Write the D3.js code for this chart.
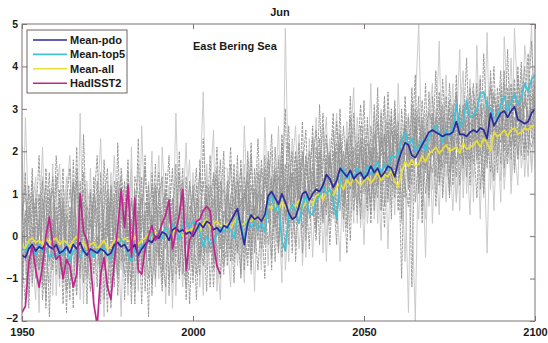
<!DOCTYPE html>
<html>
<head>
<meta charset="utf-8">
<script src="https://cdn.jsdelivr.net/npm/d3@7"></script>
<style>
html,body{margin:0;padding:0;background:#fff;}
svg{display:block;font-family:"Liberation Sans",Arial,sans-serif;}
</style>
</head>
<body>
<svg id="chart" width="548" height="343"></svg>
<script>
// ---------- DATA ----------
const firstYear = 1950, lastYear = 2100;
const xTicks = [1950, 2000, 2050, 2100];
const yTicks = [-2, -1, 0, 1, 2, 3, 4, 5];
const titleText = "Jun";
const regionText = "East Bering Sea";
const seriesNames = ["Mean-pdo", "Mean-top5", "Mean-all", "HadISST2"];

// ensemble members (gray)
const gray01 = [0.8,-0.6,1.2,-1.1,0.3,1.9,-0.4,-1.5,0.6,1.1,
-0.9,0.2,1.6,-1.3,0.7,-0.2,2.1,-0.8,0.4,-1.6,
1.0,0.1,-1.2,1.5,-0.3,0.9,-1.7,0.5,1.3,-0.6,
0.2,1.8,-1.0,0.6,-0.5,1.4,-1.3,0.8,0.0,1.7,
-0.7,0.4,1.1,-1.4,0.9,-0.1,2.0,-0.9,0.3,1.2,
-1.1,0.7,1.5,-0.4,0.2,1.9,-0.8,0.6,1.3,-0.5,
1.0,-0.3,1.7,0.1,-0.9,1.4,0.5,2.2,-0.4,0.9,
1.6,-0.2,1.1,2.4,0.3,1.8,-0.5,1.3,2.6,0.4,
1.9,0.8,2.7,-0.1,1.5,2.3,0.6,3.1,1.0,1.8,
0.3,2.5,1.2,3.0,0.7,1.9,2.8,0.9,2.2,1.4,
3.2,0.8,2.0,1.3,3.5,0.6,2.4,1.6,3.0,1.1,
2.7,0.4,3.3,1.8,2.2,3.8,1.0,2.6,1.5,3.4,
2.0,3.9,1.2,2.8,1.7,3.6,2.3,1.4,3.1,2.5,
4.2,1.6,2.9,2.1,3.7,1.3,3.3,2.4,4.0,1.9,
3.0,2.2,4.4,1.8,3.5,2.7,4.1,2.0,3.2,4.6,
2.8];
const gray02 = [-1.2,0.4,-0.3,1.6,-0.9,0.2,1.3,-1.7,0.9,-0.1,
1.4,-1.0,0.6,0.0,-1.5,1.8,-0.6,0.3,1.1,-0.4,
-1.3,0.8,1.9,-0.7,0.1,-1.8,1.2,0.4,-0.9,1.6,
0.5,-1.1,0.9,-0.3,2.3,-0.8,0.3,1.2,-1.4,0.6,
1.5,-0.5,-1.2,0.8,0.2,1.7,-1.0,0.5,-0.2,1.3,
0.4,-0.9,1.8,0.1,-1.3,0.9,1.4,-0.6,0.7,2.0,
-0.7,0.8,0.2,1.9,-1.0,1.1,0.3,-0.5,1.6,0.6,
-0.3,1.4,0.9,-0.8,2.1,0.5,1.2,3.0,-0.2,1.5,
0.9,2.2,-0.4,1.7,1.0,2.6,0.2,1.4,2.9,0.7,
2.0,1.1,-0.2,2.4,1.5,0.6,3.3,1.2,0.8,2.6,
1.0,2.8,0.3,2.1,1.4,2.9,0.7,3.4,1.8,0.9,
2.2,-1.0,2.5,1.3,3.1,0.8,2.0,1.6,3.6,1.1,
2.9,1.4,3.2,0.9,2.4,3.0,1.7,3.8,1.2,2.6,
1.8,3.5,2.3,0.9,3.1,2.7,1.6,3.9,2.2,3.0,
1.7,3.6,2.4,3.3,1.5,3.8,2.6,3.1,4.3,2.3,
3.4];
const gray03 = [0.3,1.5,-1.4,0.1,0.9,-0.8,0.5,1.2,-1.9,0.4,
-0.2,1.1,-1.1,0.8,1.6,-0.5,-1.4,1.3,0.0,0.7,
0.4,-0.9,0.6,1.1,-1.5,0.3,0.8,-1.2,2.2,-0.3,
-0.9,1.0,0.3,-1.6,0.8,0.1,1.9,-0.6,0.5,-1.0,
0.9,1.4,-0.3,0.2,-1.1,0.7,0.4,1.6,-1.5,0.1,
1.2,-0.2,-0.9,2.3,0.5,-0.4,0.8,1.6,-1.0,0.6,
0.3,1.7,-0.6,0.6,1.2,-0.8,2.0,0.7,0.1,1.5,
0.6,-1.0,2.0,0.9,1.4,-0.2,2.4,0.8,1.1,2.0,
-0.6,1.2,1.6,2.5,0.4,1.0,2.1,-0.2,1.7,2.4,
1.1,0.5,2.7,1.5,2.0,0.2,1.6,2.9,1.3,0.7,
2.3,1.7,0.5,3.1,1.2,2.0,3.3,0.8,2.5,1.9,
0.6,3.0,1.9,2.4,-1.2,2.8,1.4,3.2,2.1,0.9,
3.3,2.1,1.6,3.7,2.2,1.0,2.9,3.4,1.9,2.7,
2.6,1.2,3.4,2.8,1.9,4.3,2.3,1.5,3.3,2.7,
3.9,1.6,2.9,3.6,2.1,4.0,1.9,3.4,2.5,3.7,
2.2];
const gray04 = [-0.5,-1.6,0.7,0.2,-0.6,1.0,-1.2,0.3,1.5,-0.8,
0.5,-0.4,0.9,-1.8,0.3,1.2,0.1,-1.0,2.4,-0.2,
-0.6,1.4,-0.1,-1.1,1.8,0.2,-0.5,1.0,-1.4,0.3,
1.3,-0.4,-1.2,1.1,0.4,-0.7,0.6,-1.9,1.5,0.2,
-0.2,-1.3,0.7,1.9,-0.6,0.5,-0.9,0.1,1.4,-0.8,
0.8,1.6,-0.6,0.4,1.0,-1.2,0.3,2.1,0.0,-0.9,
1.3,0.4,-1.1,0.9,1.6,0.0,-0.7,1.2,0.5,2.3,
0.1,1.9,0.4,1.3,-0.6,1.0,2.2,0.3,1.7,-0.4,
1.4,0.6,2.0,1.1,-0.3,1.8,2.5,1.2,0.4,2.2,
1.6,2.9,0.5,1.2,2.6,1.4,-0.1,2.1,1.7,3.1,
1.5,0.6,2.6,1.8,0.9,2.3,1.6,2.7,0.4,3.0,
1.7,2.3,0.9,2.8,1.5,2.0,3.3,0.6,2.4,1.9,
1.5,2.6,3.4,1.9,2.7,0.9,3.1,2.2,2.8,1.6,
3.1,2.4,1.7,3.6,1.1,2.5,3.2,2.0,1.3,3.5,
2.4,3.9,1.9,2.6,3.4,1.8,2.9,4.0,2.1,2.9,
3.6];
const gray05 = [1.1,0.0,-0.9,0.6,1.4,-1.3,0.8,-0.2,0.4,-1.4,
0.9,1.7,-0.7,0.4,-0.9,0.6,1.0,-1.5,0.7,1.3,
-1.0,0.5,0.9,-0.4,-1.9,1.3,0.2,0.7,-0.7,0.9,
-0.3,0.7,1.6,-0.9,-0.1,1.0,-0.5,0.4,2.0,-1.2,
0.6,0.0,-0.8,1.2,-1.7,1.0,0.3,-0.4,0.8,1.8,
-0.6,0.2,0.9,-1.4,1.7,0.1,-0.5,1.0,0.6,1.4,
0.0,-1.2,1.2,0.4,0.8,-0.4,1.8,-0.1,1.1,0.0,
1.2,0.6,-0.7,1.7,0.8,2.6,0.0,0.9,1.4,1.1,
0.3,1.6,1.0,0.1,2.3,0.5,1.3,1.9,-0.4,1.2,
2.3,0.4,1.8,0.9,1.1,2.7,0.8,1.5,2.4,0.2,
2.0,1.3,3.6,0.4,1.9,1.1,2.6,-0.3,2.2,1.6,
1.0,2.6,1.4,-1.8,2.9,1.5,0.4,2.7,1.8,2.5,
1.1,3.0,2.0,2.5,0.8,2.6,1.5,3.1,0.6,3.5,
2.0,0.5,2.8,1.7,3.0,2.2,-0.4,2.9,1.8,3.3,
1.3,2.8,3.2,1.0,2.5,3.3,1.6,2.3,3.0,1.5,
2.7];
const gray06 = [-0.8,2.8,0.2,-0.4,-1.5,0.6,0.1,0.9,-0.7,1.7,
-1.4,0.3,0.0,1.4,-0.3,-1.0,0.5,0.8,-0.8,1.1,
0.7,-1.5,0.3,0.9,0.4,-0.6,1.5,-0.9,0.2,-1.9,
1.2,0.1,-0.7,0.7,-1.3,2.6,0.3,-0.4,-0.8,0.9,
-1.0,2.1,0.4,-0.5,0.6,-1.4,1.2,0.9,-0.1,-0.7,
1.5,0.0,-0.3,0.7,-0.8,1.1,2.5,-1.3,0.2,0.9,
-0.5,1.0,0.6,-0.7,0.3,1.7,-0.2,0.8,-1.3,1.2,
0.9,0.1,1.5,-0.1,1.0,0.4,1.9,-0.8,0.6,2.3,
1.1,-0.3,0.8,1.9,1.3,-0.5,1.6,0.9,2.6,0.0,
0.6,1.7,1.0,-0.6,2.0,1.0,1.8,0.3,2.8,1.6,
-0.2,1.9,1.2,2.5,0.3,3.0,1.3,1.9,0.7,2.6,
2.0,0.9,2.2,2.9,0.8,-2.0,2.3,1.2,2.9,0.7,
2.4,1.8,0.5,3.0,1.4,2.2,3.6,0.8,2.0,1.3,
3.3,2.1,1.4,2.5,0.4,3.4,1.7,2.6,0.6,2.8,
2.9,1.1,2.2,3.5,1.6,2.4,3.0,1.4,2.7,1.6,
4.0];
const gray07 = [0.1,-0.3,-1.7,1.0,0.5,-0.2,-1.0,1.6,0.2,-0.5,
1.9,0.6,-1.6,0.2,1.1,0.4,-0.8,-0.3,1.5,0.3,
-0.4,0.2,1.3,-1.6,0.6,1.1,-0.2,-0.6,0.9,1.4,
-1.5,0.4,0.8,0.3,-0.9,0.5,1.6,0.1,-1.1,-0.4,
1.1,-0.8,0.3,0.5,1.6,-0.9,-0.3,1.1,0.6,-1.6,
0.3,1.2,0.0,-0.7,0.9,0.4,-1.2,0.5,1.8,-0.2,
0.7,2.1,0.1,-0.3,0.9,0.6,1.3,-0.8,0.7,-0.1,
1.8,0.7,-0.2,0.8,1.6,-0.3,1.0,1.7,0.2,1.2,
2.0,0.9,0.2,1.3,2.0,0.7,-0.1,2.3,1.1,1.6,
-0.2,1.3,2.2,1.6,0.4,2.3,1.1,2.0,0.5,2.3,
1.2,2.2,1.8,0.6,2.7,1.5,0.2,2.5,1.4,3.2,
1.3,2.0,2.7,1.1,3.5,1.9,2.8,0.3,2.5,2.9,
2.7,0.7,2.2,3.1,1.9,2.8,1.2,3.3,2.4,3.0,
1.4,2.9,3.6,1.8,2.6,3.1,2.2,3.5,2.7,1.5,
3.4,2.6,1.7,2.9,3.7,2.3,3.5,2.4,1.9,3.3,
3.1];
const gray08 = [0.6,0.9,0.4,-1.2,1.1,0.0,2.1,-0.6,-1.1,0.8,
0.1,-1.2,1.2,0.6,-0.2,0.9,-1.3,2.9,-0.4,-0.9,
1.6,-0.2,-0.7,0.5,1.2,-1.1,0.4,1.9,0.0,-0.8,
0.6,-1.4,1.3,0.0,1.7,-0.2,-0.9,1.0,0.3,-0.6,
0.3,1.3,-1.6,0.6,-0.3,2.9,0.0,-1.2,0.9,0.2,
-0.9,0.5,1.1,3.4,-0.5,0.6,0.9,-0.4,-1.5,1.6,
1.6,-0.5,0.9,1.1,-0.3,2.6,0.6,-0.9,1.4,0.4,
-0.8,2.8,0.6,0.3,1.5,0.7,-1.1,4.9,0.8,0.0,
0.8,2.4,-0.7,0.9,1.6,1.1,2.8,0.4,1.3,-0.6,
1.8,0.7,1.5,2.5,0.1,1.6,2.2,3.5,0.3,1.9,
2.6,0.3,1.4,2.9,1.7,-0.1,3.1,1.2,2.0,0.5,
3.6,1.5,-0.6,2.2,1.7,3.1,5.0,1.5,0.4,3.0,
0.3,2.3,4.6,1.0,2.9,1.9,0.6,2.5,4.4,0.9,
2.5,3.7,0.8,4.5,1.7,2.0,4.8,1.1,3.0,2.3,
0.8,4.7,3.0,1.3,4.9,3.1,2.2,4.5,3.6,5.0,
1.6];
const gray09 = [-1.5,0.5,1.0,0.8,-1.0,0.4,-0.6,0.1,1.1,0.2,
-0.5,0.9,0.3,-0.9,0.4,-1.7,1.6,0.2,-1.1,0.5,
0.2,0.9,-0.3,0.3,-0.8,0.7,-1.1,1.3,0.6,0.0,
-0.6,1.5,0.1,-0.2,0.6,-1.6,0.8,0.5,1.2,-0.3,
-0.4,0.8,1.0,-1.0,0.0,0.4,1.5,-0.6,-1.2,0.7,
0.5,-1.5,0.4,1.3,0.1,-0.3,1.5,0.3,0.4,-0.7,
-0.2,0.9,1.4,-0.4,1.8,0.1,-0.5,1.9,0.2,-0.8,
0.5,1.1,1.8,-0.5,0.9,1.4,0.6,-0.3,2.2,0.8,
-0.2,1.8,1.2,0.6,0.8,1.5,1.0,2.0,0.3,1.4,
1.2,2.0,0.3,1.8,1.3,-0.4,2.4,0.6,1.6,1.0,
1.8,1.0,2.1,0.9,1.2,2.4,1.8,0.9,2.8,1.3,
2.4,1.8,1.2,0.7,2.0,2.6,1.1,2.2,1.0,2.1,
1.9,2.8,1.3,2.1,3.3,1.5,2.4,1.7,2.3,3.1,
2.2,1.8,2.6,3.0,2.3,1.0,2.8,3.1,2.0,2.6,
2.2,3.1,2.7,2.1,2.8,1.9,3.3,2.8,2.4,2.1,
2.5];
const gray10 = [2.1,-0.9,0.0,-0.7,0.2,-1.8,1.4,0.6,0.0,-0.3,
0.2,-0.7,-0.4,1.0,1.9,0.0,-0.5,0.6,-1.6,0.8,
-0.8,0.4,0.7,2.3,-0.3,-1.3,0.9,-0.4,1.1,0.5,
0.1,-0.8,2.1,-1.3,0.2,0.8,-0.2,1.3,-0.6,0.4,
1.9,-0.4,-0.2,0.1,-1.0,1.4,-0.7,0.6,2.2,-0.5,
-0.3,0.8,-1.2,0.6,1.4,-0.1,0.1,-1.0,1.1,0.3,
1.2,0.3,-0.3,1.5,0.4,-1.1,1.0,0.4,-0.2,1.7,
-0.5,0.4,1.2,2.0,-0.1,1.9,0.8,1.4,-0.6,1.6,
2.6,0.4,1.5,-0.5,1.7,2.1,0.2,1.0,1.9,2.8,
0.5,1.6,2.9,0.8,1.7,2.1,0.4,2.6,1.2,2.0,
0.4,2.6,1.7,1.0,3.1,0.6,2.3,2.9,1.0,1.8,
2.9,0.3,3.0,1.6,0.8,2.4,3.0,1.9,-0.5,2.7,
3.6,1.0,1.9,2.4,3.8,1.2,2.0,0.8,2.9,3.9,
1.0,3.2,2.0,2.7,3.8,0.9,2.6,3.7,1.4,2.0,
3.6,1.4,2.6,4.2,2.0,1.2,3.9,2.5,1.4,3.8,
2.0];
const gray11 = [0.4,1.2,-0.8,-0.2,0.7,0.9,-1.5,-0.4,0.5,1.4,
-0.3,0.1,0.8,-0.6,-1.2,0.3,1.3,-0.2,0.2,-1.0,
1.1,-0.5,0.0,-0.9,0.8,1.6,-0.7,0.2,-0.4,1.0,
-0.2,0.3,-1.6,1.4,1.0,-0.3,0.0,-1.0,0.7,1.1,
0.0,-1.1,1.5,0.3,0.9,-0.5,0.6,1.3,-0.9,0.4,
1.0,0.3,-0.5,-0.1,1.2,0.8,-0.6,1.4,-0.3,0.5,
0.4,-0.6,0.5,1.3,0.2,0.9,1.5,-0.2,0.6,1.0,
0.2,1.6,0.3,1.0,0.5,-0.4,1.7,0.5,1.2,0.3,
1.6,1.0,0.5,1.9,0.9,1.3,0.1,1.7,1.4,0.5,
1.9,0.8,1.4,2.2,0.9,1.5,2.0,1.1,1.9,0.4,
2.1,1.4,0.8,2.4,1.9,1.2,2.0,1.6,1.2,2.4,
1.5,2.4,1.7,2.0,1.2,3.0,1.6,2.4,2.0,1.3,
2.2,2.5,1.7,2.6,2.0,3.2,1.9,2.1,3.0,1.7,
2.8,2.2,3.2,2.0,2.9,2.4,1.9,2.6,3.4,2.4,
2.6,2.0,3.5,2.5,2.2,3.2,2.7,1.8,3.6,2.6,
3.2];
const gray12 = [-0.2,0.6,0.3,1.3,-0.4,-0.8,0.9,0.3,-0.6,0.0,
0.7,-0.3,-0.9,0.5,0.2,1.3,-0.2,0.4,0.8,-0.6,
-0.3,1.0,0.5,-0.5,0.2,0.0,1.1,-0.2,-1.0,0.6,
0.8,0.0,0.4,-0.6,0.5,0.9,-0.4,0.2,-0.2,1.2,
-0.5,0.5,0.1,0.9,-0.4,0.2,-0.1,0.8,0.4,-0.3,
-0.2,0.9,0.6,0.1,-0.4,1.2,0.5,0.0,0.9,1.1,
0.1,0.6,0.9,0.2,-0.1,1.0,0.7,0.3,1.1,0.2,
1.0,0.3,0.7,1.4,0.2,0.8,1.2,0.4,0.9,1.5,
0.5,1.3,1.9,0.3,1.1,1.7,0.9,1.2,0.6,1.9,
1.4,1.1,2.0,0.6,1.6,2.2,1.2,1.7,1.3,2.1,
1.3,1.9,2.3,1.2,1.6,1.9,2.4,1.3,1.9,2.5,
2.0,1.6,2.6,2.1,1.7,2.5,2.1,2.8,1.6,2.2,
2.5,2.0,2.8,1.6,2.4,2.1,2.9,2.6,1.8,2.4,
2.0,2.7,2.3,2.9,2.5,2.0,3.0,2.4,2.6,3.1,
2.8,2.4,3.2,2.9,2.5,3.0,2.6,3.2,2.8,3.0,
2.9];

const meanPdo = [-0.45,-0.5,-0.3,-0.2,-0.35,-0.25,-0.3,-0.15,-0.25,-0.3,
-0.2,-0.4,-0.35,-0.25,-0.4,-0.2,-0.3,-0.15,-0.35,-0.45,
-0.3,-0.35,-0.4,-0.3,-0.35,-0.45,-0.4,-0.2,-0.15,-0.25,
-0.2,-0.35,-0.3,-0.2,-0.45,-0.3,-0.2,-0.1,-0.15,0.0,
-0.05,0.1,0.05,-0.1,0.15,0.2,0.1,0.15,0.05,0.1,
0.0,0.15,0.3,0.2,0.35,0.3,0.15,0.2,0.1,0.25,
0.2,0.35,0.5,0.65,0.2,-0.2,0.3,0.5,0.4,0.45,
0.35,0.5,0.95,1.05,0.9,0.75,1.0,0.8,0.55,0.4,
0.45,0.7,1.0,1.05,0.85,1.0,1.1,1.05,1.2,1.45,
1.35,1.15,1.3,1.6,1.5,1.4,1.55,1.35,1.45,1.5,
1.35,1.45,1.65,1.5,1.6,1.4,1.5,1.65,1.6,1.4,
1.75,2.0,2.2,2.15,1.9,1.85,2.0,2.15,2.3,2.45,
2.5,2.45,2.4,2.35,2.4,2.4,2.45,2.7,2.4,2.4,
2.35,2.45,2.5,2.45,2.55,2.5,2.3,2.9,2.6,2.75,
2.9,2.95,2.8,2.95,3.05,2.75,2.7,2.65,2.7,2.9,
3.0];
const meanTop5 = [-0.3,-0.35,-0.2,-0.3,-0.45,-0.2,-0.35,-0.3,-0.5,-0.4,
-0.55,-0.3,-0.45,-0.2,-0.6,-0.35,-0.3,-0.5,-0.3,-0.45,
-0.35,-0.5,-0.3,-0.4,-0.25,-0.45,-0.55,-0.3,-0.2,-0.1,
-0.15,-0.45,-0.6,-0.3,-0.5,-0.2,-0.3,-0.1,0.05,-0.05,
0.1,-0.05,0.2,0.05,0.3,0.15,-0.1,0.25,0.35,0.2,
0.35,0.3,0.1,-0.25,0.0,-0.2,-0.15,0.05,0.2,0.1,
0.25,0.15,-0.05,0.45,0.3,-0.1,0.4,0.2,0.35,0.15,
0.3,0.1,0.85,0.95,0.6,0.75,-0.1,-0.35,0.55,0.75,
0.6,0.3,0.75,0.95,0.55,0.5,0.85,0.95,1.2,1.0,
1.1,0.85,0.4,1.25,1.6,1.35,1.5,1.35,1.6,1.5,
1.4,1.65,1.45,1.6,1.75,1.5,1.7,1.55,1.9,1.85,
1.95,2.25,2.45,2.15,2.3,2.0,2.1,2.25,2.0,2.35,
2.5,2.6,2.45,2.2,2.5,2.35,2.55,3.1,2.55,2.7,
3.2,2.8,2.85,3.0,3.35,3.4,3.05,3.0,2.8,2.75,
3.1,3.3,2.95,3.15,3.35,3.1,3.25,3.6,3.4,3.7,
3.8];
const meanAll = [-0.2,-0.3,-0.1,-0.05,-0.15,-0.1,-0.2,-0.05,-0.15,-0.1,
-0.05,-0.2,-0.1,-0.15,-0.25,-0.1,0.0,-0.2,-0.15,-0.3,
-0.2,-0.15,-0.3,-0.2,-0.1,-0.3,-0.25,-0.1,-0.05,-0.15,
-0.05,-0.1,-0.15,0.0,-0.2,-0.1,-0.05,0.05,0.0,0.1,
0.05,0.0,0.15,0.1,0.05,0.2,0.1,0.0,0.15,0.1,
0.2,0.25,0.1,0.3,0.4,0.2,0.3,0.35,0.25,0.2,
0.3,0.15,0.35,0.45,0.25,0.3,0.4,0.35,0.45,0.4,
0.35,0.45,0.7,0.65,0.75,0.6,0.8,0.7,0.6,0.75,
0.7,0.85,0.65,0.8,0.9,0.75,0.95,1.0,0.85,1.05,
1.0,0.95,1.15,1.25,1.1,1.35,1.2,1.4,1.3,1.2,
1.3,1.4,1.25,1.35,1.5,1.3,1.45,1.4,1.55,1.3,
1.15,1.5,1.75,1.65,1.8,1.65,1.7,1.9,1.75,1.95,
2.0,2.1,1.95,2.05,2.15,2.0,2.05,2.1,1.95,2.2,
2.05,2.1,2.15,2.25,2.1,2.3,2.2,2.0,2.45,2.35,
2.4,2.5,2.35,2.5,2.55,2.4,2.45,2.55,2.5,2.6,
2.6];
// observations 1950-2008
const hadISST2 = [-1.8,-1.65,-0.6,-0.25,-0.8,-1.2,-0.7,0.0,0.45,-0.2,
-0.55,-0.45,-1.0,-0.55,-0.7,-1.2,-0.9,1.0,0.1,-0.1,
-0.6,-1.6,-2.1,-0.9,-0.5,-1.2,-1.5,-0.6,0.2,1.1,
0.2,1.2,-0.5,0.9,-0.8,-0.9,-0.3,0.0,0.25,-0.1,
0.05,0.3,0.5,0.85,-0.3,0.1,0.5,1.1,-0.8,-0.1,
0.1,0.35,0.4,0.6,0.7,0.6,-0.2,-0.7,-0.9];

const grayDark = [gray01, gray02, gray04, gray07, gray09, gray11, gray12, gray03];
const grayLight = [gray05, gray06, gray08, gray10];

// ---------- CHART ----------
const svg = d3.select("#chart");
const L = 22, R = 535, T = 24, B = 321;
const x = d3.scaleLinear().domain([firstYear, lastYear]).range([L, R]);
const y = d3.scaleLinear().domain([-2, 5]).range([B, T]);

svg.append("defs").append("clipPath").attr("id", "clip")
  .append("rect").attr("x", L).attr("y", T).attr("width", R - L).attr("height", B - T);

const plot = svg.append("g").attr("clip-path", "url(#clip)");
const line = d3.line().x((d, i) => x(firstYear + i)).y(d => y(d));

grayLight.forEach(s => plot.append("path").attr("d", line(s))
  .attr("fill", "none").attr("stroke", "#c6c6c6").attr("stroke-width", 0.9));
grayDark.forEach(s => plot.append("path").attr("d", line(s))
  .attr("fill", "none").attr("stroke", "#929292").attr("stroke-width", 0.9)
  .attr("stroke-dasharray", "3,1"));

const colors = {"Mean-pdo": "#2b2b9c", "Mean-top5": "#40c2d8", "Mean-all": "#e9df3a", "HadISST2": "#c2248e"};
const mainSeries = [
  ["Mean-all", meanAll],
  ["Mean-top5", meanTop5],
  ["Mean-pdo", meanPdo],
  ["HadISST2", hadISST2]
];
mainSeries.forEach(([name, s]) => plot.append("path").attr("d", line(s))
  .attr("fill", "none").attr("stroke", colors[name]).attr("stroke-width", 1.7)
  .attr("stroke-linejoin", "round"));

// frame
svg.append("rect").attr("x", L).attr("y", T).attr("width", R - L).attr("height", B - T)
  .attr("fill", "none").attr("stroke", "#7d7573").attr("stroke-width", 1);

function styleAxis(g, labels) {
  g.select(".domain").remove();
  g.selectAll(".tick line").attr("stroke", "#7d7573");
  g.selectAll(".tick text").attr("fill", labels ? "#1a1a1a" : "none")
    .style("font-size", "11px").style("font-weight", "bold")
    .style("font-family", "'Liberation Sans', Arial, sans-serif");
}
svg.append("g").attr("transform", `translate(0,${B})`)
  .call(d3.axisBottom(x).tickValues(xTicks).tickFormat(d3.format("d")).tickSize(-5).tickPadding(7))
  .call(g => styleAxis(g, true));
svg.append("g").attr("transform", `translate(0,${T})`)
  .call(d3.axisTop(x).tickValues(xTicks).tickFormat("").tickSize(-5))
  .call(g => styleAxis(g, false));
svg.append("g").attr("transform", `translate(${L},0)`)
  .call(d3.axisLeft(y).tickValues(yTicks).tickFormat(d3.format("d")).tickSize(-5).tickPadding(4))
  .call(g => styleAxis(g, true))
  .call(g => g.selectAll(".tick text").style("font-size", "10.5px")
    .attr("dy", d => d === -2 ? "0.05em" : "0.32em"));
svg.append("g").attr("transform", `translate(${R},0)`)
  .call(d3.axisRight(y).tickValues(yTicks).tickFormat("").tickSize(-5))
  .call(g => styleAxis(g, false));

// titles
svg.append("text").attr("x", 280).attr("y", 16).attr("text-anchor", "middle")
  .style("font-size", "11px").style("font-weight", "bold").attr("fill", "#1a1a1a").text(titleText);
svg.append("text").attr("x", 193).attr("y", 50)
  .style("font-size", "11px").style("font-weight", "bold").attr("fill", "#1a1a1a").text(regionText);

// legend
const lg = svg.append("g");
lg.append("rect").attr("x", 27).attr("y", 30).attr("width", 100).attr("height", 63)
  .attr("fill", "#fff").attr("stroke", "#6e6664").attr("stroke-width", 1);
seriesNames.forEach((n, i) => {
  const yy = 40 + i * 14.4;
  lg.append("line").attr("x1", 33).attr("x2", 67).attr("y1", yy).attr("y2", yy)
    .attr("stroke", colors[n]).attr("stroke-width", 1.6);
  lg.append("text").attr("x", 70).attr("y", yy + 4)
    .style("font-size", "11px").style("font-weight", "bold").attr("fill", "#1a1a1a").text(n);
});
</script>
</body>
</html>
